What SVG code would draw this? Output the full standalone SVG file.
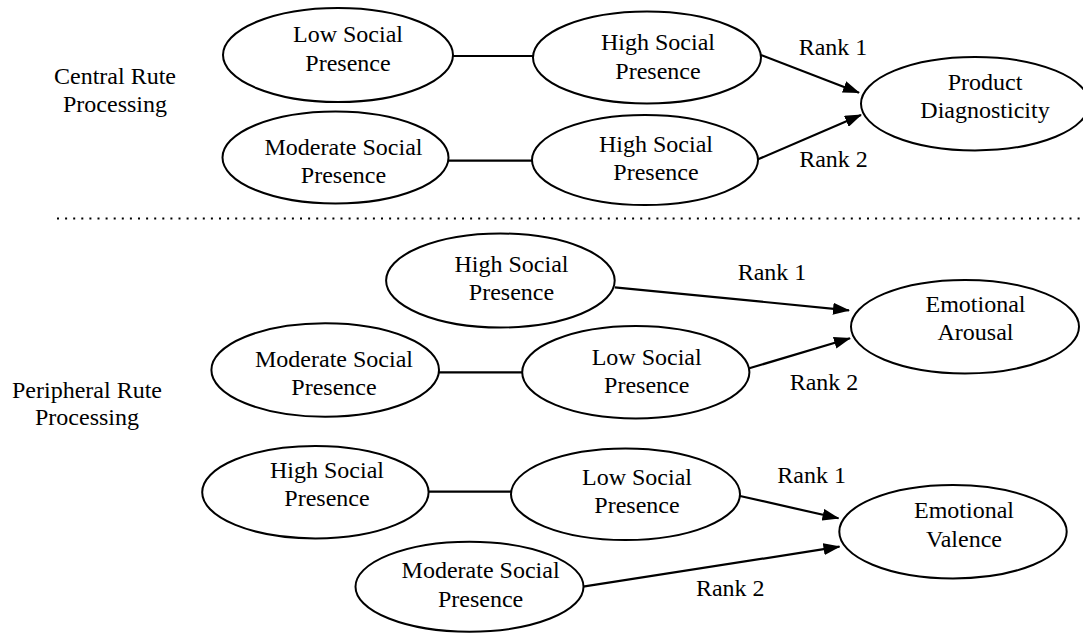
<svg xmlns="http://www.w3.org/2000/svg" width="1083" height="633" viewBox="0 0 1083 633">
<style>
  .n ellipse { fill: #fff; stroke: #000; stroke-width: 2; }
  text { font-family: "Liberation Serif", "Times New Roman", serif; font-size: 24px; fill: #000; text-anchor: middle; }
  .c line { stroke: #000; stroke-width: 2.2; fill: none; }
  .c line.arr { marker-end: url(#ah); }
  .sep { stroke: #000; stroke-width: 2; stroke-dasharray: 2 6.1; }
</style>
<defs>
  <marker id="ah" markerUnits="userSpaceOnUse" markerWidth="17" markerHeight="12" viewBox="0 0 17 12" refX="16" refY="6" orient="auto">
    <path d="M0,0 L17,6 L0,12 z" fill="#000"/>
  </marker>
</defs>
<rect width="1083" height="633" fill="#fff"/>

<g id="labels">
  <text x="115" y="84">Central Rute</text>
  <text x="115" y="112">Processing</text>
  <text x="87" y="398">Peripheral Rute</text>
  <text x="87" y="425">Processing</text>
</g>

<line class="sep" x1="57" y1="218.5" x2="1083" y2="218.5"/>

<g class="c" id="connectors">
  <line x1="453" y1="56" x2="533" y2="56"/>
  <line x1="448.6" y1="160.7" x2="532.3" y2="160.7"/>
  <line class="arr" x1="761" y1="55" x2="859" y2="92.7"/>
  <line class="arr" x1="758" y1="159.3" x2="861" y2="115"/>
  <line x1="439" y1="372.3" x2="522.2" y2="372.3"/>
  <line class="arr" x1="614.7" y1="287.3" x2="849" y2="310.3"/>
  <line class="arr" x1="749.3" y1="368.3" x2="850" y2="338.3"/>
  <line x1="428.6" y1="491.7" x2="511" y2="491.7"/>
  <line class="arr" x1="740" y1="496" x2="838.5" y2="518.3"/>
  <line class="arr" x1="583" y1="586.7" x2="839.5" y2="546.7"/>
  <text x="833" y="55">Rank 1</text>
  <text x="833.5" y="166.7">Rank 2</text>
  <text x="772" y="280">Rank 1</text>
  <text x="824" y="390">Rank 2</text>
  <text x="811.7" y="483.3">Rank 1</text>
  <text x="730.3" y="596">Rank 2</text>
</g>

<g class="n" id="n-low-central">
  <ellipse cx="338" cy="55" rx="115" ry="47"/>
  <text x="348" y="41.7">Low Social</text>
  <text x="348" y="70.7">Presence</text>
</g>
<g class="n" id="n-high-central-1">
  <ellipse cx="647" cy="57.5" rx="114" ry="46"/>
  <text x="658" y="50">High Social</text>
  <text x="658" y="79.3">Presence</text>
</g>
<g class="n" id="n-moderate-central">
  <ellipse cx="335.5" cy="157.5" rx="113" ry="46"/>
  <text x="343.5" y="155">Moderate Social</text>
  <text x="343.5" y="183.3">Presence</text>
</g>
<g class="n" id="n-high-central-2">
  <ellipse cx="645" cy="160" rx="113" ry="45"/>
  <text x="656" y="151.7">High Social</text>
  <text x="656" y="180">Presence</text>
</g>
<g class="n" id="n-product-diagnosticity">
  <ellipse cx="975" cy="103.7" rx="114" ry="46.7"/>
  <text x="985" y="90">Product</text>
  <text x="985" y="118.3">Diagnosticity</text>
</g>

<g class="n" id="n-high-arousal">
  <ellipse cx="500.4" cy="280.5" rx="114.3" ry="47"/>
  <text x="511.5" y="271.7">High Social</text>
  <text x="511.5" y="300">Presence</text>
</g>
<g class="n" id="n-moderate-arousal">
  <ellipse cx="325.2" cy="370" rx="113.8" ry="46.7"/>
  <text x="334" y="366.7">Moderate Social</text>
  <text x="334" y="395">Presence</text>
</g>
<g class="n" id="n-low-arousal">
  <ellipse cx="635.8" cy="372.2" rx="113.6" ry="46.2"/>
  <text x="646.7" y="365">Low Social</text>
  <text x="646.7" y="392.7">Presence</text>
</g>
<g class="n" id="n-emotional-arousal">
  <ellipse cx="965" cy="326.7" rx="114" ry="46.7"/>
  <text x="975.5" y="311.7">Emotional</text>
  <text x="975.5" y="340">Arousal</text>
</g>

<g class="n" id="n-high-valence">
  <ellipse cx="315.4" cy="492.2" rx="113.2" ry="46.2"/>
  <text x="327" y="478.3">High Social</text>
  <text x="327" y="506">Presence</text>
</g>
<g class="n" id="n-low-valence">
  <ellipse cx="625.5" cy="494.2" rx="114.5" ry="45.8"/>
  <text x="637" y="485">Low Social</text>
  <text x="637" y="513.3">Presence</text>
</g>
<g class="n" id="n-moderate-valence">
  <ellipse cx="469.5" cy="586.7" rx="114" ry="45"/>
  <text x="480.6" y="578.3">Moderate Social</text>
  <text x="480.6" y="606.7">Presence</text>
</g>
<g class="n" id="n-emotional-valence">
  <ellipse cx="953" cy="531.7" rx="113.7" ry="46.7"/>
  <text x="964" y="518.3">Emotional</text>
  <text x="964" y="546.7">Valence</text>
</g>
</svg>
